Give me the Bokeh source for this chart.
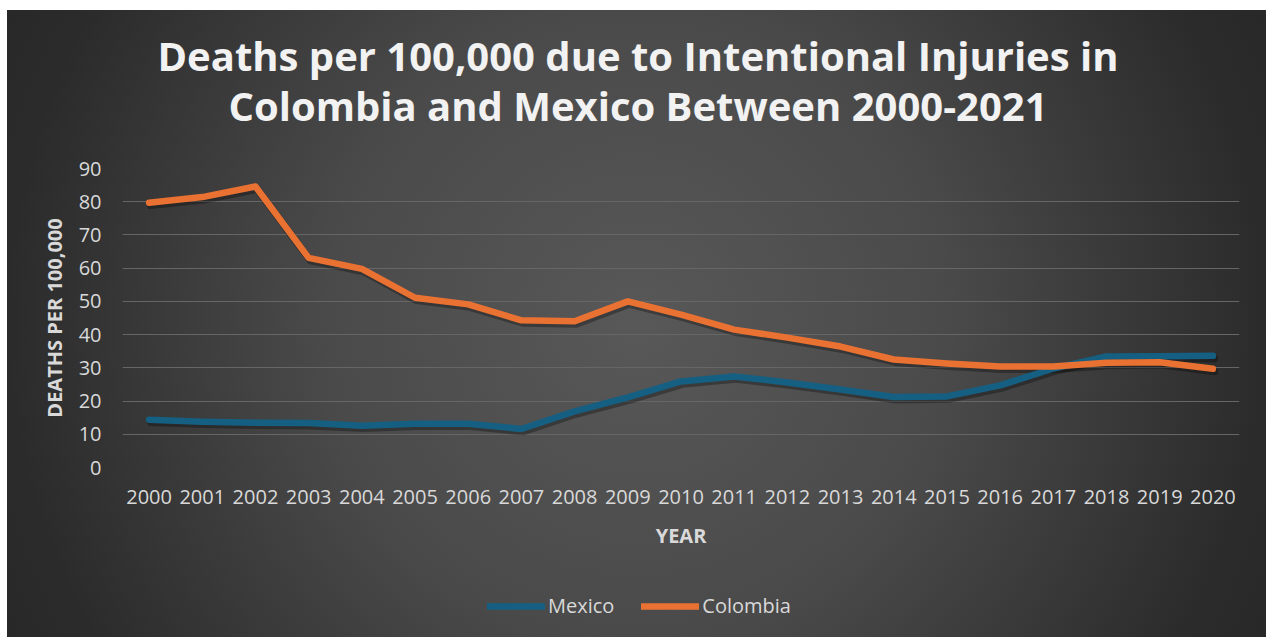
from bokeh.plotting import figure
from bokeh.layouts import column
from bokeh.models import Range1d, FixedTicker, Legend, LegendItem, ColumnDataSource
from bokeh.transform import dodge
from bokeh.embed import file_html
from bokeh.resources import INLINE

years = list(range(2000, 2021))
mexico = [14.4, 13.8, 13.5, 13.4, 12.6, 13.2, 13.2, 11.6, 16.9, 21.1, 25.9,
          27.4, 25.6, 23.5, 21.2, 21.4, 24.7, 29.8, 33.4, 33.5, 33.6]
colombia = [79.7, 81.4, 84.6, 63.1, 59.8, 51.1, 49.1, 44.3, 44.0, 50.0, 46.0,
            41.5, 39.1, 36.4, 32.5, 31.3, 30.4, 30.4, 31.5, 31.7, 29.7]
y_ticks = [0, 10, 20, 30, 40, 50, 60, 70, 80, 90]
title_text = "Deaths per 100,000 due to Intentional Injuries in\nColombia and Mexico Between 2000-2021"
series_names = ["Mexico", "Colombia"]
series_colors = ["#156082", "#e97132"]
series_values = [mexico, colombia]

FONT = "Open Sans"
TXT = "#d9d9d9"

p = figure(width=1259, height=580, output_backend="svg", toolbar_location=None,
           x_range=Range1d(1999.5, 2020.5), y_range=Range1d(0, 90),
           min_border_left=115, min_border_right=27, min_border_top=158,
           min_border_bottom=103)
p.margin = (-20, 0, 0, 0)
p.background_fill_alpha = 0
p.border_fill_alpha = 0
p.outline_line_color = None

p.title.text = title_text
p.title.align = "left"
p.title.text_align = "center"
p.title.offset = 35
p.title.text_font = FONT
p.title.text_font_size = "40px"
p.title.text_font_style = "bold"
p.title.text_color = "#f2f2f2"
p.title.text_line_height = 0.92
p.title.standoff = 70

sources = [ColumnDataSource(dict(year=years, val=vals)) for vals in series_values]
# soft drop shadows, then the series lines
for src in sources:
    p.line(x=dodge("year", 0.03, range=p.x_range), y=dodge("val", -0.8, range=p.y_range),
           source=src, line_color="black", line_alpha=0.3, line_width=7.5,
           line_cap="round", line_join="round")
for src, col in zip(sources, series_colors):
    p.line(x="year", y="val", source=src, line_color=col, line_width=6.5,
           line_cap="round", line_join="round")

p.xgrid.grid_line_color = None
p.ygrid.grid_line_color = "#666666"
p.ygrid.grid_line_width = 1.2

p.yaxis.ticker = FixedTicker(ticks=y_ticks)
p.xaxis.ticker = FixedTicker(ticks=years)
for ax in (p.xaxis[0], p.yaxis[0]):
    ax.axis_line_color = None
    ax.major_tick_line_color = None
    ax.minor_tick_line_color = None
    ax.major_tick_out = 0
    ax.major_tick_in = 0
    ax.minor_tick_out = 0
    ax.major_label_text_font = FONT
    ax.major_label_text_font_size = "20px"
    ax.major_label_text_color = TXT
    ax.axis_label_text_font = FONT
    ax.axis_label_text_font_size = "20px"
    ax.axis_label_text_font_style = "bold"
    ax.axis_label_text_color = TXT

p.yaxis.axis_label = "DEATHS PER 100,000"
p.yaxis.major_label_standoff = 21
p.yaxis.axis_label_standoff = 8
p.xaxis.axis_label = "YEAR"
p.xaxis.major_label_standoff = 22
p.xaxis.axis_label_standoff = 15

# legend strip below the chart (its lines lie outside its own view)
lf = figure(width=1259, height=67, output_backend="svg", toolbar_location=None,
            x_axis_type=None, y_axis_type=None, min_border=0,
            x_range=Range1d(0, 1), y_range=Range1d(0, 1))
lf.background_fill_alpha = 0
lf.border_fill_alpha = 0
lf.outline_line_color = None
items = []
for name, src, col in zip(series_names, sources, series_colors):
    r = lf.line(x="year", y="val", source=src, line_color=col, line_width=6.5,
                line_cap="round")
    items.append(LegendItem(label=name, renderers=[r]))
legend = Legend(items=items, orientation="horizontal", location=(365, 18),
                glyph_width=58, glyph_height=20, label_standoff=3, spacing=27,
                padding=5, margin=0,
                label_text_font=FONT, label_text_font_size="20px",
                label_text_color=TXT,
                background_fill_alpha=0, border_line_color=None)
lf.add_layout(legend, "center")

layout = column(p, lf, spacing=0)
layout.margin = (10, 0, 0, 7)
layout.styles = {"background": "radial-gradient(circle 760px at 50% 50%, #585858 0px, #4a4a4a 310px, #2b2b2b 630px, #262626 760px)"}

open("out.html", "w").write(file_html(layout, INLINE))
